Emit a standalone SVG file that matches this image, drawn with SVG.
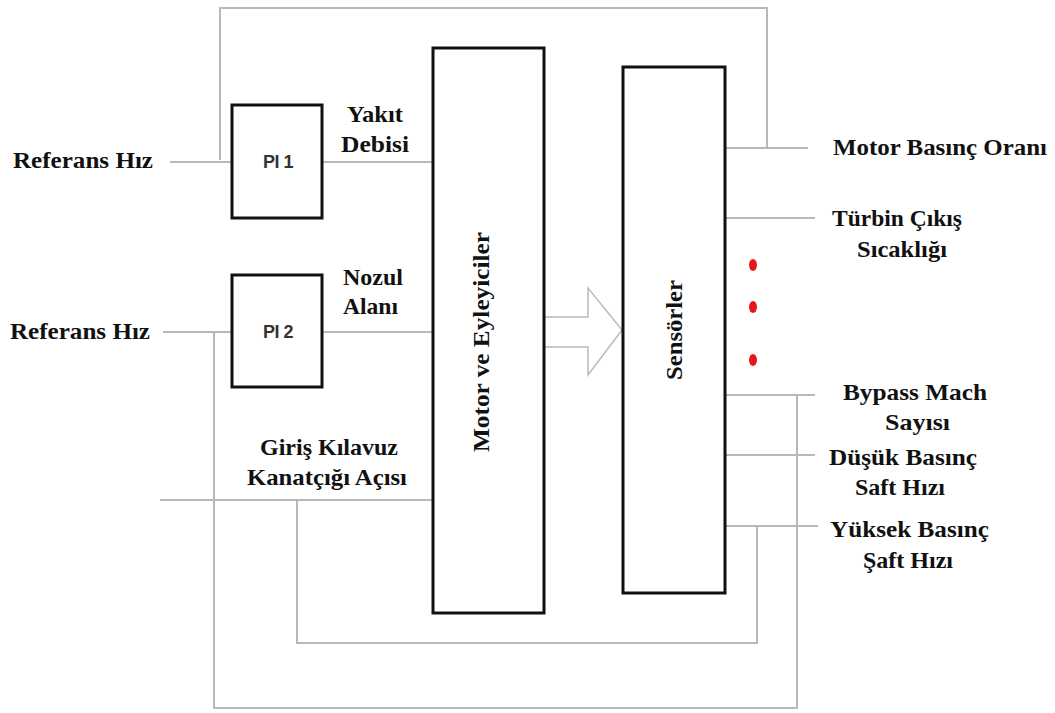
<svg xmlns="http://www.w3.org/2000/svg" width="1055" height="713" viewBox="0 0 1055 713">
<style>
.ln{fill:none;stroke:#b8b8b8;stroke-width:2}
.box{fill:#fff;stroke:#111;stroke-width:3}
.t{font-family:"Liberation Serif","Times New Roman",serif;font-weight:bold;font-size:24px;fill:#111}
.pi{font-family:"Liberation Sans",Arial,sans-serif;font-weight:bold;font-size:18px;fill:#333;text-anchor:middle;letter-spacing:-0.5px}
</style>
<rect width="1055" height="713" fill="#fff"/>
<g id="connectors">
<polyline class="ln" points="220,160 220,8 767,8 767,148"/>
<line class="ln" x1="170" y1="162" x2="232" y2="162"/>
<line class="ln" x1="433" y1="162" x2="323" y2="162"/>
<line class="ln" x1="163" y1="332" x2="232" y2="332"/>
<line class="ln" x1="322" y1="332" x2="433" y2="332"/>
<polyline class="ln" points="214,332 214,708 797,708 797,395"/>
<line class="ln" x1="160" y1="500" x2="433" y2="500"/>
<polyline class="ln" points="297,500 297,643 757,643 757,526"/>
<line class="ln" x1="725" y1="148" x2="808" y2="148"/>
<line class="ln" x1="725" y1="218" x2="815" y2="218"/>
<line class="ln" x1="725" y1="395" x2="815" y2="395"/>
<line class="ln" x1="725" y1="455" x2="815" y2="455"/>
<line class="ln" x1="725" y1="526" x2="818" y2="526"/>
<polygon points="544,317 588,317 588,288 622,330 588,375 588,347 544,347" fill="#fff" stroke="#bbb" stroke-width="1.5"/>
</g>
<g id="pi1"><rect class="box" x="232" y="105" width="90" height="113"/><text class="pi" x="278" y="168">PI 1</text></g>
<g id="pi2"><rect class="box" x="232" y="275" width="90" height="112"/><text class="pi" x="278" y="338">PI 2</text></g>
<g id="motor"><rect class="box" x="433" y="48" width="111" height="565"/><text class="t" text-anchor="middle" textLength="220" lengthAdjust="spacingAndGlyphs" transform="translate(489,342) rotate(-90)">Motor ve Eyleyiciler</text></g>
<g id="sensor"><rect class="box" x="623" y="67" width="102" height="526"/><text class="t" text-anchor="middle" textLength="100" lengthAdjust="spacingAndGlyphs" transform="translate(682,330) rotate(-90)">Sensörler</text></g>
<g id="labels">
<text class="t" x="13" y="168" textLength="140" lengthAdjust="spacingAndGlyphs">Referans Hız</text>
<text class="t" x="10" y="339" textLength="140" lengthAdjust="spacingAndGlyphs">Referans Hız</text>
<text class="t" x="347" y="122" textLength="56" lengthAdjust="spacingAndGlyphs">Yakıt</text>
<text class="t" x="341" y="152" textLength="68" lengthAdjust="spacingAndGlyphs">Debisi</text>
<text class="t" x="343" y="285" textLength="60" lengthAdjust="spacingAndGlyphs">Nozul</text>
<text class="t" x="343" y="314" textLength="55" lengthAdjust="spacingAndGlyphs">Alanı</text>
<text class="t" x="260" y="455" textLength="138" lengthAdjust="spacingAndGlyphs">Giriş Kılavuz</text>
<text class="t" x="247" y="485" textLength="160" lengthAdjust="spacingAndGlyphs">Kanatçığı Açısı</text>
<text class="t" x="833" y="155" textLength="214" lengthAdjust="spacingAndGlyphs">Motor Basınç Oranı</text>
<text class="t" x="832" y="226" textLength="130" lengthAdjust="spacingAndGlyphs">Türbin Çıkış</text>
<text class="t" x="857" y="257" textLength="90" lengthAdjust="spacingAndGlyphs">Sıcaklığı</text>
<text class="t" x="843" y="400" textLength="144" lengthAdjust="spacingAndGlyphs">Bypass Mach</text>
<text class="t" x="885" y="430" textLength="65" lengthAdjust="spacingAndGlyphs">Sayısı</text>
<text class="t" x="829" y="465" textLength="148" lengthAdjust="spacingAndGlyphs">Düşük Basınç</text>
<text class="t" x="855" y="495" textLength="90" lengthAdjust="spacingAndGlyphs">Saft Hızı</text>
<text class="t" x="830" y="537" textLength="159" lengthAdjust="spacingAndGlyphs">Yüksek Basınç</text>
<text class="t" x="863" y="568" textLength="90" lengthAdjust="spacingAndGlyphs">Şaft Hızı</text>
</g>
<g id="dots" fill="#e8161b">
<ellipse cx="753" cy="265" rx="4" ry="6"/>
<ellipse cx="753" cy="307" rx="4" ry="6"/>
<ellipse cx="753" cy="360" rx="4" ry="6"/>
</g>
</svg>
